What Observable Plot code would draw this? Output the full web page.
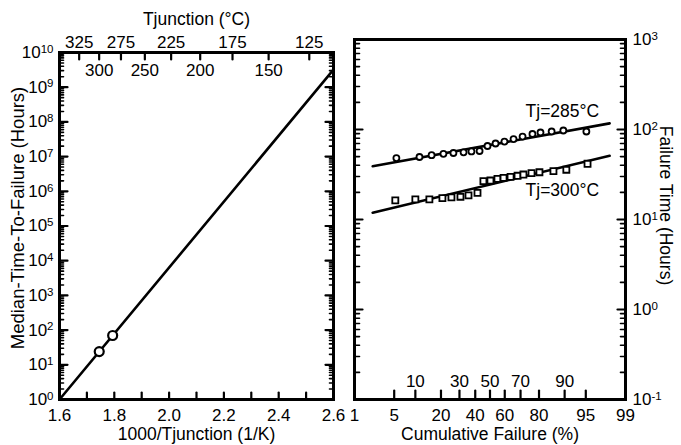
<!DOCTYPE html>
<html><head><meta charset="utf-8">
<script src="https://cdn.jsdelivr.net/npm/d3@7"></script>
<script src="https://cdn.jsdelivr.net/npm/@observablehq/plot@0.6"></script>
<style>
body{margin:0;background:#fff;}
#wrap{position:relative;width:681px;height:445px;overflow:hidden;font-family:"Liberation Sans",Arial,sans-serif;}
#wrap svg{position:absolute;top:0;overflow:visible;}
</style></head><body><div id="wrap"></div>
<script>
// ---------- data: left panel ----------
const fitInvT = [1.6, 2.6];
const fitMTTF = [1, 3.2e9];
const medianInvT = [1.745, 1.794];
const medianHours = [24, 70];
const tjTicks = [325, 300, 275, 250, 225, 200, 175, 150, 125];
const tjOuterLabels = [325, 275, 225, 175, 125];
const tjInnerLabels = [300, 250, 200, 150];
const invTTicks = [1.7, 1.8, 1.9, 2.0, 2.1, 2.2, 2.3, 2.4, 2.5];
const invTLabels = [1.6, 1.8, 2.0, 2.2, 2.4, 2.6];
const leftDecades = [1e0, 1e1, 1e2, 1e3, 1e4, 1e5, 1e6, 1e7, 1e8, 1e9, 1e10];

// ---------- data: right panel ----------
const pct285 = [5.4, 11.3, 15.8, 21.2, 26.5, 32.5, 37.5, 42.9, 48.3, 53.8, 59.8, 65.7, 71.2, 76.7, 80.7, 85.5, 89.6, 95.1];
const hours285 = [48.2, 49.5, 51.8, 53.7, 54.8, 55.8, 57.0, 57.7, 65.6, 69.9, 73.5, 78.3, 83.5, 89.1, 92.6, 95.0, 97.5, 95.0];
const pct300 = [5.2, 10.0, 14.9, 20.7, 25.4, 30.6, 35.6, 41.5, 45.5, 50.3, 55.1, 59.2, 63.8, 68.2, 71.7, 76.2, 80.2, 86.2, 90.5, 95.3];
const hours300 = [16.3, 16.7, 16.7, 17.3, 17.6, 17.9, 18.5, 19.8, 26.7, 27.1, 28.3, 29.0, 29.8, 30.6, 31.6, 32.7, 33.5, 34.4, 35.7, 41.6];
const fitPct = [2.2, 98];
const fit285Hours = [39, 117];
const fit300Hours = [11.9, 51];
const seriesNames = ["Tj=285°C", "Tj=300°C"];
const seriesLabelPct = [89.3, 89.3];
const seriesLabelHours = [158, 21];
const probTicks = [5, 10, 20, 30, 40, 50, 60, 70, 80, 90, 95];
const probOuterLabels = [1, 5, 20, 40, 60, 80, 95, 99];
const probInnerLabels = [10, 30, 50, 70, 90];
const rightDecades = [0.1, 1, 10, 100, 1000];

// ---------- helpers ----------
function probit(p){
  const a=[-3.969683028665376e+01,2.209460984245205e+02,-2.759285104469687e+02,1.383577518672690e+02,-3.066479806614716e+01,2.506628277459239e+00];
  const b=[-5.447609879822406e+01,1.615858368580409e+02,-1.556989798598866e+02,6.680131188771972e+01,-1.328068155288572e+01];
  const c=[-7.784894002430293e-03,-3.223964580411365e-01,-2.400758277161838e+00,-2.549732539343734e+00,4.374664141464968e+00,2.938163982698783e+00];
  const d=[7.784695709041462e-03,3.224671290700398e-01,2.445134137142996e+00,3.754408661907416e+00];
  const pl=0.02425, ph=1-pl; let q,r;
  if(p<pl){q=Math.sqrt(-2*Math.log(p));return (((((c[0]*q+c[1])*q+c[2])*q+c[3])*q+c[4])*q+c[5])/((((d[0]*q+d[1])*q+d[2])*q+d[3])*q+1);}
  if(p>ph){q=Math.sqrt(-2*Math.log(1-p));return -(((((c[0]*q+c[1])*q+c[2])*q+c[3])*q+c[4])*q+c[5])/((((d[0]*q+d[1])*q+d[2])*q+d[3])*q+1);}
  q=p-0.5;r=q*q;return (((((a[0]*r+a[1])*r+a[2])*r+a[3])*r+a[4])*r+a[5])*q/(((((b[0]*r+b[1])*r+b[2])*r+b[3])*r+b[4])*r+1);
}
const z = p => probit(p/100);
const inv = t => 1000/(t+273.15);
const minorOf = decs => decs.slice(0,-1).flatMap(d => [2,3,4,5,6,7,8,9].map(k => k*d));
const sup = d => "10|" + Math.round(Math.log10(d));
const font = "Liberation Sans, Arial, sans-serif";
const style = {fontFamily: font, fontSize: "17px", color: "#000", background: "transparent", overflow: "visible"};

const tjMap = new Map(tjOuterLabels.map(t => [inv(t), t]));
const probMap = new Map(probOuterLabels.map(p => [z(p), p]));

// inward tick shapes for Plot.vector
const up = {draw(c, l){c.moveTo(0, 0); c.lineTo(0, -l);}};
const down = {draw(c, l){c.moveTo(0, 0); c.lineTo(0, l);}};
const rightward = {draw(c, l){c.moveTo(0, 0); c.lineTo(l, 0);}};
const leftward = {draw(c, l){c.moveTo(0, 0); c.lineTo(-l, 0);}};
const tickX = (vals, side, len, sw) => Plot.vector(vals, {x: d => d, frameAnchor: side, length: len, anchor: "start", shape: side === "bottom" ? up : down, strokeWidth: sw, stroke: "#000"});
const tickY = (vals, side, len, sw) => Plot.vector(vals, {y: d => d, frameAnchor: side, length: len, anchor: "start", shape: side === "left" ? rightward : leftward, strokeWidth: sw, stroke: "#000"});

// ---------- left panel ----------
const left = Plot.plot({
  width: 345, height: 445,
  marginLeft: 59, marginRight: 12, marginTop: 52, marginBottom: 46,
  style,
  x: {domain: [1.6, 2.6]},
  y: {type: "log", domain: [1, 1e10]},
  marks: [
    tickX(invTTicks, "bottom", 7, 2.2),
    Plot.axisX({anchor: "bottom", ticks: invTLabels, tickSize: 0, tickPadding: 9, tickFormat: d => d.toFixed(1), label: null}),
    tickX(tjTicks.map(inv), "top", 7, 2.2),
    Plot.axisX({anchor: "top", ticks: tjOuterLabels.map(inv), tickSize: 0, tickPadding: 5, tickFormat: v => String(tjMap.get(v)), label: null}),
    Plot.text(tjInnerLabels, {x: inv, text: d => String(d), frameAnchor: "top", dy: 18, lineAnchor: "middle", fontSize: 17}),
    tickY(leftDecades, "left", 8, 2.2),
    tickY(minorOf(leftDecades), "left", 4, 1.6),
    Plot.axisY({anchor: "left", ticks: leftDecades, tickSize: 0, tickPadding: 6, tickFormat: sup, label: null}),
    tickY(leftDecades, "right", 8, 2.2),
    tickY(minorOf(leftDecades), "right", 4, 1.6),
    Plot.frame({strokeWidth: 3}),
    Plot.line(fitInvT.map((x, i) => ({x, y: fitMTTF[i]})), {x: "x", y: "y", strokeWidth: 2.6}),
    Plot.dot(medianInvT.map((x, i) => ({x, y: medianHours[i]})), {x: "x", y: "y", r: 4.5, stroke: "#000", strokeWidth: 2.2, fill: "#fff"}),
    Plot.text(["Tjunction (°C)"], {frameAnchor: "top", dy: -33, lineAnchor: "middle", fontSize: 17.5}),
    Plot.text(["1000/Tjunction (1/K)"], {frameAnchor: "bottom", dy: 35, lineAnchor: "middle", fontSize: 17.5}),
    Plot.text(["Median-Time-To-Failure (Hours)"], {frameAnchor: "left", dx: -41, dy: -8, rotate: -90, textAnchor: "middle", lineAnchor: "middle", fontSize: 18.5})
  ]
});

// ---------- right panel ----------
const ptsA = pct285.map((p, i) => ({x: z(p), y: hours285[i]}));
const ptsB = pct300.map((p, i) => ({x: z(p), y: hours300[i]}));
const right = Plot.plot({
  width: 341, height: 445,
  marginLeft: 14, marginRight: 56, marginTop: 39, marginBottom: 46,
  style,
  x: {domain: [z(1), z(99)]},
  y: {type: "log", domain: [0.1, 1000]},
  marks: [
    tickX(probTicks.map(z), "bottom", 9, 2.2),
    Plot.axisX({anchor: "bottom", ticks: probOuterLabels.map(z), tickSize: 0, tickPadding: 9, tickFormat: v => String(probMap.get(v)), label: null}),
    Plot.text(probInnerLabels, {x: z, text: d => String(d), frameAnchor: "bottom", dy: -18, lineAnchor: "middle", fontSize: 17}),
    tickY(rightDecades, "left", 8, 2.2),
    tickY(minorOf(rightDecades), "left", 5, 1.6),
    tickY(rightDecades, "right", 8, 2.2),
    tickY(minorOf(rightDecades), "right", 5, 1.6),
    Plot.axisY({anchor: "right", ticks: rightDecades, tickSize: 0, tickPadding: 7, tickFormat: sup, label: null}),
    Plot.frame({strokeWidth: 3}),
    Plot.line(fitPct.map((p, i) => ({x: z(p), y: fit285Hours[i]})), {x: "x", y: "y", strokeWidth: 2.6}),
    Plot.line(fitPct.map((p, i) => ({x: z(p), y: fit300Hours[i]})), {x: "x", y: "y", strokeWidth: 2.6}),
    Plot.dot(ptsA, {x: "x", y: "y", r: 3, stroke: "#000", strokeWidth: 1.8, fill: "#fff"}),
    Plot.dot(ptsB, {x: "x", y: "y", r: 3.4, symbol: "square", stroke: "#000", strokeWidth: 1.8, fill: "#fff"}),
    Plot.text(seriesNames.map((t, i) => ({t, x: z(seriesLabelPct[i]), y: seriesLabelHours[i]})), {x: "x", y: "y", text: "t", fontSize: 17.5}),
    Plot.text(["Cumulative Failure (%)"], {frameAnchor: "bottom", dy: 35, lineAnchor: "middle", fontSize: 17.5}),
    Plot.text(["Failure Time (Hours)"], {frameAnchor: "right", dx: 40, dy: -14, rotate: 90, textAnchor: "middle", lineAnchor: "middle", fontSize: 17.5})
  ]
});

function superscripts(svg){
  d3.select(svg).selectAll("text").each(function(){
    const t = this.textContent;
    if (!t.includes("|")) return;
    const [b, e] = t.split("|");
    const s = d3.select(this);
    s.text(null);
    s.append("tspan").text(b);
    s.append("tspan").attr("dy", "-0.45em").attr("font-size", "11.5px").text(e);
  });
}
superscripts(left); superscripts(right);
left.style.left = "0px";
right.style.left = "340px";
document.getElementById("wrap").append(left, right);
</script></body></html>
